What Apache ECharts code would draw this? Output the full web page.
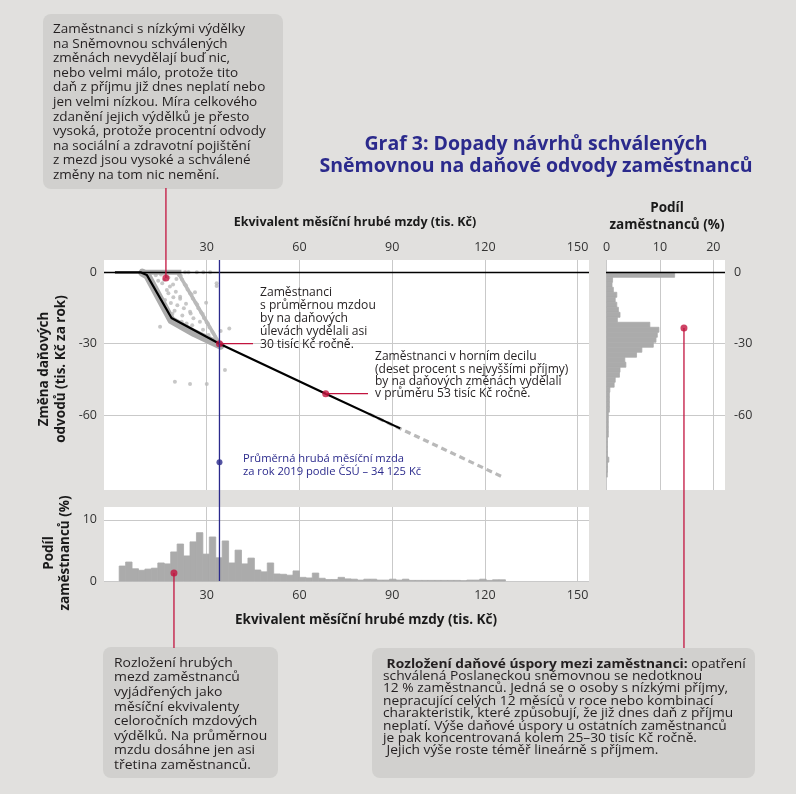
<!DOCTYPE html>
<html><head><meta charset="utf-8">
<script src="https://cdn.jsdelivr.net/npm/echarts@6/dist/echarts.min.js"></script>
<style>html,body{margin:0;padding:0;background:#e1e0de;} #c{width:796px;height:794px;}</style>
</head><body><div id="c"></div>
<script>
// ---------- data ----------
const xTicks = [30, 60, 90, 120, 150];
const yTicks = [0, -30, -60];
const shareTicksY = [0, 10];
const shareTicksX = [0, 10, 20];
const avgWage = 34.125;

// black line: typical tax change by wage
const taxLine = [[0.3,0],[8.6,0],[10.6,-1.1],[18.6,-19.2],[34.125,-30],[68.5,-51],[92.6,-65.6]];
// dense grey band of employees along the line
const grayBand = [[9.2,-0.2],[10.8,-1.4],[18.6,-20.2],[26,-25.6],[34.5,-30.8]];
const zeroRow = [[8.6,0],[21.8,0]];
const streak = [[20.9,-0.6],[33.6,-28.8]];
const tailDashed = [[82.5,-59.5],[126.2,-86.3]];
const scatterPts = [
  [24.1,0],[26.8,0],[28.9,0],[31.1,0],[23,0],
  [13.5,-1.2],[15.2,-0.9],[16.2,-3.1],[17.6,-2.2],[18.1,-6.0],[17.1,-7.4],[17.6,-8.8],[16.5,-11.6],
  [19.1,-5.1],[20.0,-8.2],[21.4,-10.3],[21.4,-11.1],[20.5,-13.8],[22.6,-15.1],[24.6,-16.6],[24.8,-17.3],
  [21.9,-20.8],[23.5,-21.5],[25.7,-19.3],[27.8,-20.8],[26.2,-8.4],[29.8,-12.8],[19.6,-16.2],[22.1,-18.2],
  [15.6,-4.6],[16.9,-14.6],[18.4,-12.9],[19.2,-10.5],[23.3,-13.2],[25.3,-22.3],[28.8,-24.1],[30.6,-26.4],
  [14.3,-3.5],[20.2,-2.8],[18.9,-17.4],
  [21.1,-1.2],[22.0,-3.0],[22.9,-5.1],[23.8,-7.2],[24.6,-8.8],[25.5,-11.0],[26.4,-12.8],[27.3,-15.1],
  [28.2,-16.9],[29.1,-19.2],[30.0,-21.1],[30.9,-23.2],[31.8,-25.0],[32.7,-27.1],[33.4,-28.6],
  [21.6,-1.5],[23.3,-5.6],[25.1,-9.3],[26.9,-13.5],[28.7,-17.5],[30.4,-21.6],[32.2,-25.8],
  [33.2,-4.6],[33.2,-5.8],[14.9,-22.9],[34.5,-24.7],[37.3,-23.6],[35.9,-41.1],[19.7,-46],[24.6,-47],[30,-47]
];
// annotation points
const lowWagePoint = [16.8, -2.4];
const avgPoint = [avgWage, -30];
const topDecilePoint = [68.5, -51];
const avgLabelPoint = [avgWage, -79.8];
const wageHistPoint = [19.4, 1.3];
const taxHistPoint = [14.5, -23.4];

// wage histogram (share of employees, %), bins of 25/12 tis. Kč
const WAGE_BIN_START = 1.67;
const WAGE_BIN_WIDTH = 25/12;
const wageShares = [2.45,3.1,2.0,1.75,1.95,2.1,2.95,2.8,4.75,6.05,4.1,6.4,7.9,4.4,7.2,3.8,6.55,2.95,5.05,2.8,
  3.75,1.8,1.5,2.95,1.15,1.1,0.95,1.65,0.6,0.5,1.3,0.45,0.25,0.25,0.6,0.35,0.3,0.15,0.3,0.3,
  0.15,0.15,0.3,0.15,0.3,0.1,0.1,0.1,0.1,0.1,0.1,0.1,0.1,0.05,0.15,0.15,0.3,0.1,0.2,0.2];

// tax-change histogram (share of employees, %), bins of 2.1 tis. Kč downward from 0
const TAX_BIN_WIDTH = 2.1;
const taxShares = [12.75,1.1,1.0,1.25,1.9,1.6,1.9,2.2,2.5,2.0,8.1,9.8,9.5,9.25,8.75,6.6,5.6,3.4,3.6,2.5,
  2.4,1.6,1.4,0.6,0.5,0.5,0.5,0.5,0.3,0.3,0.3,0.3,0.3,0.15,0.15,0.15,0.15,0.4,0.15,0.15,0.1];

// ---------- styles ----------
const FONT = '"Open Sans", Lato, sans-serif';
const RED = '#c2143f';
const NAVY = '#2b2a8c';
const GRAY = '#ababab';
const LIGHTGRAY = '#b9b9b9';
const TXT = '#231f20';
const GRID = '#c9c9c9';

const chart = echarts.init(document.getElementById('c'));

function axisX(grid, pos, min, max, ticks, showLabel) {
  return {
    type:'value', gridIndex:grid, position:pos, min:min, max:max,
    axisLine:{show:false}, axisTick:{show:false, customValues:ticks},
    axisLabel:{show:showLabel, customValues:ticks, color:'#333', fontFamily:FONT, fontSize:12.5, margin:pos==='top'?6:8},
    splitLine:{show:true, lineStyle:{color:GRID, width:1}}
  };
}
function axisY(grid, pos, min, max, ticks) {
  return {
    type:'value', gridIndex:grid, position:pos, min:min, max:max,
    axisLine:{show:false}, axisTick:{show:false, customValues:ticks},
    axisLabel:{customValues:ticks, color:'#333', fontFamily:FONT, fontSize:12.5, margin:pos==='right'?9:7},
    splitLine:{show:true, lineStyle:{color:GRID, width:1}}
  };
}

const Y_MIN = -91.5, Y_MAX = 5.17;

chart.setOption({
  backgroundColor:'#e1e0de',
  animation:false,
  grid:[
    {left:104, top:260, width:485, height:230, show:true, backgroundColor:'#fff', borderWidth:0},
    {left:104, top:507, width:485, height:74, show:true, backgroundColor:'#fff', borderWidth:0},
    {left:606, top:260, width:119, height:230, show:true, backgroundColor:'#fff', borderWidth:0}
  ],
  xAxis:[
    axisX(0,'top',-3.24,153.7,xTicks,true),
    axisX(1,'bottom',-3.24,153.7,xTicks,true),
    axisX(2,'top',-0.13,22.2,shareTicksX,true)
  ],
  yAxis:[
    axisY(0,'left',Y_MIN,Y_MAX,yTicks),
    axisY(1,'left',0,12.1,shareTicksY),
    axisY(2,'right',Y_MIN,Y_MAX,yTicks)
  ],
  series:[
    {type:'line', xAxisIndex:0, yAxisIndex:0, data:grayBand, symbol:'none', z:2,
      lineStyle:{color:GRAY, width:8, cap:'round', join:'round'},
      markLine:{silent:true, symbol:'none', label:{show:false}, lineStyle:{color:'#000', width:1.3, type:'solid'}, data:[{yAxis:0}]}},
    {type:'line', xAxisIndex:0, yAxisIndex:0, data:zeroRow, symbol:'none', z:3, lineStyle:{color:GRAY, width:5}},
    {type:'line', xAxisIndex:0, yAxisIndex:0, data:streak, symbol:'none', z:2, lineStyle:{color:LIGHTGRAY, width:3.5}},
    {type:'line', xAxisIndex:0, yAxisIndex:0, data:tailDashed, symbol:'none', z:2, lineStyle:{color:LIGHTGRAY, width:3.2, type:[6,4]}},
    {type:'scatter', xAxisIndex:0, yAxisIndex:0, data:scatterPts, symbolSize:4, z:2, itemStyle:{color:LIGHTGRAY}},
    {type:'line', xAxisIndex:0, yAxisIndex:0, data:taxLine, symbol:'none', z:5, lineStyle:{color:'#000', width:2.2}},
    {type:'scatter', xAxisIndex:0, yAxisIndex:0, data:[lowWagePoint, avgPoint, topDecilePoint], symbolSize:7, z:10, itemStyle:{color:RED}},
    {type:'scatter', xAxisIndex:0, yAxisIndex:0, data:[avgLabelPoint], symbolSize:6, z:10, itemStyle:{color:NAVY}},
    {type:'custom', xAxisIndex:1, yAxisIndex:1, z:3,
      data: wageShares.map((v,i)=>[i,v]),
      renderItem:function(params, api){
        const i = api.value(0);
        const x0 = WAGE_BIN_START + i*WAGE_BIN_WIDTH;
        const p0 = api.coord([x0, api.value(1)]);
        const p1 = api.coord([x0 + WAGE_BIN_WIDTH, 0]);
        return {type:'rect', shape:{x:p0[0], y:p0[1], width:p1[0]-p0[0], height:p1[1]-p0[1]},
          style:{fill:GRAY, stroke:GRAY, lineWidth:0.8}};
      }},
    {type:'scatter', xAxisIndex:1, yAxisIndex:1, data:[wageHistPoint], symbolSize:7, z:10, itemStyle:{color:RED}},
    {type:'line', xAxisIndex:2, yAxisIndex:2, data:[], symbol:'none', z:1,
      markLine:{silent:true, symbol:'none', label:{show:false}, lineStyle:{color:'#000', width:1.3, type:'solid'}, data:[{yAxis:0}]}},
    {type:'custom', xAxisIndex:2, yAxisIndex:2, z:3,
      data: taxShares.map((v,i)=>[i,v]),
      renderItem:function(params, api){
        const i = api.value(0);
        const yTop = -i*TAX_BIN_WIDTH;
        const p0 = api.coord([0, yTop]);
        const p1 = api.coord([api.value(1), yTop - TAX_BIN_WIDTH]);
        return {type:'rect', shape:{x:p0[0], y:p0[1], width:p1[0]-p0[0], height:p1[1]-p0[1]},
          style:{fill:GRAY, stroke:GRAY, lineWidth:0.8}};
      }},
    {type:'scatter', xAxisIndex:2, yAxisIndex:2, data:[taxHistPoint], symbolSize:7, z:10, itemStyle:{color:RED}}
  ]
});

// ---------- annotations ----------
const px = (g, p) => chart.convertToPixel({gridIndex:g}, p);
const pLow = px(0, lowWagePoint), pAvg = px(0, avgPoint), pTop = px(0, topDecilePoint);
const pWage = px(1, wageHistPoint), pTax = px(2, taxHistPoint);
const blueTop = px(0, [avgWage, Y_MAX]), blueBot = px(1, [avgWage, 0]);

function txt(x, y, text, opts) {
  opts = opts || {};
  return {type:'text', x:x, y:y, rotation:opts.rotation||0, scaleX:opts.sx||1, z:100,
    style:Object.assign({text:text, fill:opts.fill||TXT, font:(opts.weight||'normal')+' '+(opts.size||13)+'px '+FONT,
      lineHeight:opts.lh||15, align:opts.align||'left', verticalAlign:opts.va||'top'}, opts.extra||{})};
}
function line(x1,y1,x2,y2,color,w){
  return {type:'line', z:50, shape:{x1:x1,y1:y1,x2:x2,y2:y2}, style:{stroke:color, lineWidth:w||1.3}};
}
function box(x,y,w,h){
  return {type:'rect', z:40, shape:{x:x,y:y,width:w,height:h,r:8}, style:{fill:'#d1d0ce'}};
}
const TITLE_C = '#1a1a1a';

const graphics = [
  // connectors
  line(blueTop[0], 260, blueBot[0], 581, NAVY, 1.3),
  line(pLow[0], 188, pLow[0], pLow[1], RED),
  line(pAvg[0], pAvg[1], 253, pAvg[1], RED),
  line(pTop[0], pTop[1], 368, pTop[1], RED),
  line(pWage[0], pWage[1], pWage[0], 648, RED),
  line(pTax[0], pTax[1], pTax[0], 648, RED),
  // boxes
  box(43, 14, 240, 175),
  box(103, 647, 175, 131),
  box(372, 648, 383, 130),
  // box texts
  txt(53, 22, 'Zaměstnanci s nízkými výdělky\nna Sněmovnou schválených\nzměnách nevydělají buď nic,\nnebo velmi málo, protože tito\ndaň z příjmu již dnes neplatí nebo\njen velmi nízkou. Míra celkového\nzdanění jejich výdělků je přesto\nvysoká, protože procentní odvody\nna sociální a zdravotní pojištění\nz mezd jsou vysoké a schválené\nzměny na tom nic nemění.', {size:13, lh:14.6, sx:1.04}),
  txt(114, 655.7, 'Rozložení hrubých\nmezd zaměstnanců\nvyjádřených jako\nměsíční ekvivalenty\nceloročních mzdových\nvýdělků. Na průměrnou\nmzdu dosáhne jen asi\ntřetina zaměstnanců.', {size:13, lh:14.6, sx:1.07}),
  {type:'text', x:383, y:658, scaleX:1.13, z:100, style:{
    text:' {b|Rozložení daňové úspory mezi zaměstnanci:} opatření\nschválená Poslaneckou sněmovnou se nedotknou\n12 % zaměstnanců. Jedná se o osoby s nízkými příjmy,\nnepracující celých 12 měsíců v roce nebo kombinací\ncharakteristik, které způsobují, že již dnes daň z příjmu\nneplatí. Výše daňové úspory u ostatních zaměstnanců\nje pak koncentrovaná kolem 25–30 tisíc Kč ročně.\n Jejich výše roste téměř lineárně s příjmem.',
    font:'normal 12.2px '+FONT, fill:TXT, lineHeight:12.4, align:'left', verticalAlign:'top',
    rich:{b:{fontWeight:'bold', fontSize:12.2, fontFamily:FONT, fill:TXT, lineHeight:12.4}}}},
  // in-chart notes
  txt(260, 286.5, 'Zaměstnanci\ns průměrnou mzdou\nby na daňových\núlevách vydělali asi\n30 tisíc Kč ročně.', {size:12.1, lh:12.9}),
  txt(375, 351, 'Zaměstnanci v horním decilu\n(deset procent s nejvyššími příjmy)\nby na daňových změnách vydělali\nv průměru 53 tisíc Kč ročně.', {size:11.8, lh:12.2, sx:1.02}),
  txt(243, 452, 'Průměrná hrubá měsíční mzda\nza rok 2019 podle ČSÚ – 34 125 Kč', {size:11.2, lh:13, fill:NAVY}),
  // title
  txt(536, 133, 'Graf 3: Dopady návrhů schválených\nSněmovnou na daňové odvody zaměstnanců', {size:19.5, lh:22.5, weight:'bold', fill:NAVY, align:'center'}),
  // axis titles
  txt(355, 222, 'Ekvivalent měsíční hrubé mzdy (tis. Kč)', {size:12.5, weight:'bold', va:'middle', align:'center', fill:TITLE_C}),
  txt(366, 620, 'Ekvivalent měsíční hrubé mzdy (tis. Kč)', {size:13.5, weight:'bold', va:'middle', align:'center', fill:TITLE_C}),
  txt(667, 217, 'Podíl\nzaměstnanců (%)', {size:13.5, lh:17, weight:'bold', va:'middle', align:'center', fill:TITLE_C}),
  txt(53, 369, 'Změna daňových\nodvodů (tis. Kč za rok)', {size:13.5, lh:17, weight:'bold', va:'middle', align:'center', fill:TITLE_C, rotation:Math.PI/2}),
  txt(57, 553, 'Podíl\nzaměstnanců (%)', {size:13.5, lh:16, weight:'bold', va:'middle', align:'center', fill:TITLE_C, rotation:Math.PI/2})
];
chart.setOption({graphic:graphics});
</script></body></html>
